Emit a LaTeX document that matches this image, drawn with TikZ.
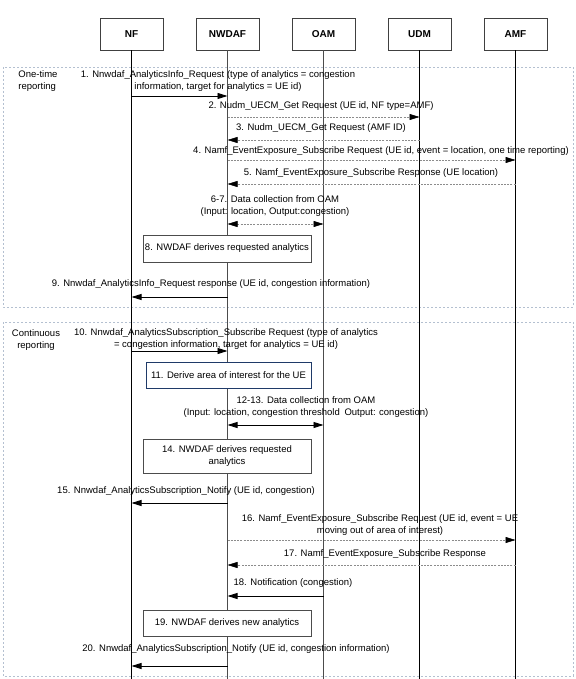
\documentclass[tikz,border=0pt]{standalone}
\usepackage{fontspec}
\setmainfont{Liberation Sans}
\usetikzlibrary{arrows.meta}
\definecolor{grpline}{HTML}{B4C0D0}
\definecolor{dline}{HTML}{8C8C8C}
\definecolor{boxblue}{HTML}{1F3A68}
\begin{document}
\begin{tikzpicture}[x=1pt,y=-1pt,
  actor/.style={draw=black!75, line width=0.8pt, minimum width=63pt, minimum height=32pt, font=\fontsize{10}{11}\selectfont\bfseries, inner sep=0pt},
  lbl/.style={font=\fontsize{9.5}{12}\selectfont, align=center, inner sep=0.5pt},
  grp/.style={font=\fontsize{9.5}{12}\selectfont, inner sep=0pt},
  msg/.style={-{Triangle[length=10pt,width=6pt]}, line width=0.9pt, black},
  dmsg/.style={-{Triangle[length=10pt,width=6pt,color=black]}, line width=0.5pt, dline, dash pattern=on 2pt off 1.2pt},
  bidmsg/.style={{Triangle[length=10pt,width=6pt,color=black]}-{Triangle[length=10pt,width=6pt,color=black]}, line width=0.5pt, dline, dash pattern=on 2pt off 1.2pt},
  bimsg/.style={{Triangle[length=10pt,width=6pt]}-{Triangle[length=10pt,width=6pt]}, line width=0.9pt, black},
  life/.style={line width=0.8pt, black},
  lifeg/.style={line width=1.2pt, black!70},
  proc/.style={draw=black!70, line width=0.8pt, fill=white, minimum width=168pt, font=\fontsize{9.5}{12}\selectfont, align=center, inner sep=0pt},
  group/.style={draw=grpline, line width=0.6pt, dash pattern=on 2pt off 2pt}
]
\useasboundingbox (0,0) rectangle (575,679);
\coordinate (bot) at (0,679);
% groups
\draw[group] (3,67) rectangle (573,307);
\draw[group] (3,322) rectangle (573,676);
% actors
\node[actor] (nf) at (131.5,34) {NF};
\node[actor] (nwdaf) at (227.5,34) {NWDAF};
\node[actor] (oam) at (323.5,34) {OAM};
\node[actor] (udm) at (419.5,34) {UDM};
\node[actor] (amf) at (515.5,34) {AMF};
% lifelines
\draw[life] (nf.south) -- (nf |- bot);
\draw[lifeg] (nwdaf.south) -- (nwdaf |- bot);
\draw[lifeg] (oam.south) -- (oam |- bot);
\draw[life] (udm.south) -- (udm |- bot);
\draw[life] (amf.south) -- (amf |- bot);
% group labels
\node[grp, align=left] (g1) at (38,81) {One-time\\reporting};
\node[grp, align=center] (g2) at (36,340) {Continuous\\reporting};
% 1
\node[lbl] (t1) at (218,81) {1. Nnwdaf\_AnalyticsInfo\_Request (type of analytics = congestion\\information, target for analytics = UE id)};
\draw[msg] (nf |- 0,96) -- (nwdaf |- 0,96);
% 2
\node[lbl] (t2) at (321,106) {2. Nudm\_UECM\_Get Request (UE id, NF type=AMF)};
\draw[dmsg] (nwdaf |- 0,117) -- (udm |- 0,117);
% 3
\node[lbl] (t3) at (321,128) {3. Nudm\_UECM\_Get Request (AMF ID)};
\draw[dmsg] (udm |- 0,140) -- (nwdaf |- 0,140);
% 4
\node[lbl] (t4) at (381,151) {4. Namf\_EventExposure\_Subscribe Request (UE id, event = location, one time reporting)};
\draw[dmsg] (nwdaf |- 0,160) -- (amf |- 0,160);
% 5
\node[lbl] (t5) at (371,173) {5. Namf\_EventExposure\_Subscribe Response (UE location)};
\draw[dmsg] (amf |- 0,184) -- (nwdaf |- 0,184);
% 6-7
\node[lbl] (t6) at (275,206) {6-7. Data collection from OAM\\(Input: location, Output:congestion)};
\draw[bidmsg] (nwdaf |- 0,224) -- (oam |- 0,224);
% 8
\node[proc, minimum height=27pt] (p8) at (227,248.5) {8. NWDAF derives requested analytics};
% 9
\node[lbl] (t9) at (211,284) {9. Nnwdaf\_AnalyticsInfo\_Request response (UE id, congestion information)};
\draw[msg] (nwdaf |- 0,297) -- (nf |- 0,297);
% 10
\node[lbl] (t10) at (226,339) {10. Nnwdaf\_AnalyticsSubscription\_Subscribe Request (type of analytics\\= congestion information, target for analytics = UE id)};
\draw[msg] (nf |- 0,351) -- (nwdaf |- 0,351);
% 11
\node[proc, draw=boxblue, minimum width=165pt, minimum height=26pt] (p11) at (228.5,375) {11. Derive area of interest for the UE};
% 12-13
\node[lbl] (t12) at (306,407) {12-13. Data collection from OAM\\(Input: location, congestion threshold\enspace Output: congestion)};
\draw[bimsg] (nwdaf |- 0,425) -- (oam |- 0,425);
% 14
\node[proc, minimum height=34pt] (p14) at (227,456) {14. NWDAF derives requested\\analytics};
% 15
\node[lbl] (t15) at (186,491) {15. Nnwdaf\_AnalyticsSubscription\_Notify (UE id, congestion)};
\draw[msg] (nwdaf |- 0,503) -- (nf |- 0,503);
% 16
\node[lbl] (t16) at (380,525.5) {16. Namf\_EventExposure\_Subscribe Request (UE id, event = UE\\moving out of area of interest)};
\draw[dmsg] (nwdaf |- 0,540) -- (amf |- 0,540);
% 17
\node[lbl] (t17) at (385,554) {17. Namf\_EventExposure\_Subscribe Response};
\draw[dmsg] (amf |- 0,565) -- (nwdaf |- 0,565);
% 18
\node[lbl] (t18) at (293,583) {18. Notification (congestion)};
\draw[msg] (oam |- 0,596) -- (nwdaf |- 0,596);
% 19
\node[proc, minimum height=26pt] (p19) at (227,623) {19. NWDAF derives new analytics};
% 20
\node[lbl] (t20) at (236,649) {20. Nnwdaf\_AnalyticsSubscription\_Notify (UE id, congestion information)};
\draw[msg] (nwdaf |- 0,666) -- (nf |- 0,666);
\end{tikzpicture}
\end{document}
